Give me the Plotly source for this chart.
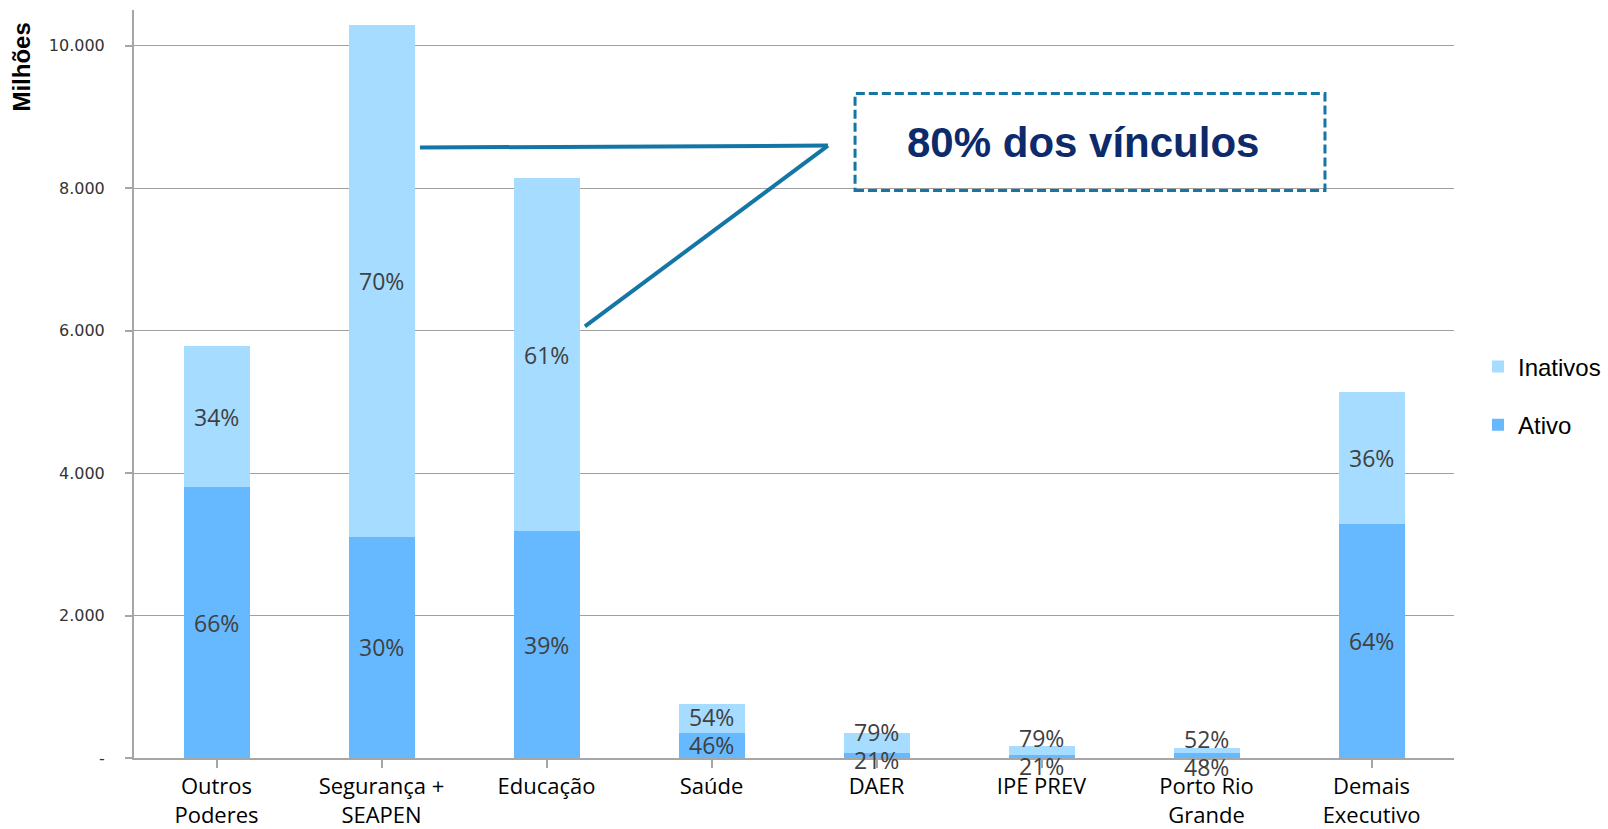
import plotly.graph_objects as go

categories = ["Outros<br>Poderes", "Segurança +<br>SEAPEN", "Educação", "Saúde",
              "DAER", "IPE PREV", "Porto Rio<br>Grande", "Demais<br>Executivo"]
ativo = [3799, 3108, 3180, 351, 72, 36, 69, 3281]
inativos = [1985, 7180, 4964, 412, 273, 137, 75, 1856]
ativo_pct = ["66%", "30%", "39%", "46%", "21%", "21%", "48%", "64%"]
inativos_pct = ["34%", "70%", "61%", "54%", "79%", "79%", "52%", "36%"]
y_ticks = [0, 2000, 4000, 6000, 8000, 10000]
y_ticklabels = ["-", "2.000", "4.000", "6.000", "8.000", "10.000"]

C_ATIVO = "#66B9FF"
C_INAT = "#A6DCFF"
C_LINE = "#1476A6"

W, H = 1608, 829
ML, MR, MT, MB = 134, 154, 10, 71
YMAX = 10500
PLOT_W = W - ML - MR
px_per_unit = (H - MT - MB) / YMAX

fig = go.Figure()
fig.add_trace(go.Bar(x=list(range(len(categories))), y=ativo, name="Ativo",
                     marker=dict(color=C_ATIVO, line=dict(width=0)),
                     legendgroup="a", legendrank=2, hoverinfo="skip"))
fig.add_trace(go.Bar(x=list(range(len(categories))), y=inativos, name="Inativos",
                     marker=dict(color=C_INAT, line=dict(width=0)),
                     legendgroup="i", legendrank=1, hoverinfo="skip"))

# percentage labels, centred on segments; pushed apart when the stack is short
label_font = dict(family="Open Sans", size=23, color="#404040")
MIN_SEP = 28
for i in range(len(categories)):
    a, b = ativo[i], inativos[i]
    ca, cb = a / 2, a + b / 2
    sa, sb = 0, 0
    sep = (cb - ca) * px_per_unit
    if sep < MIN_SEP:
        mid = (a + b) / 2
        sa = (mid - ca) * px_per_unit - MIN_SEP / 2
        sb = (mid - cb) * px_per_unit + MIN_SEP / 2
    fig.add_annotation(x=i, y=ca, text=ativo_pct[i], showarrow=False,
                       yshift=sa, font=label_font)
    fig.add_annotation(x=i, y=cb, text=inativos_pct[i], showarrow=False,
                       yshift=sb, font=label_font)

# callout
fig.add_shape(type="line", xref="x", yref="y", x0=1.233, y0=8569, x1=3.706, y1=8597,
              line=dict(color=C_LINE, width=4))
fig.add_shape(type="line", xref="x", yref="y", x0=3.706, y0=8597, x1=2.233, y1=6059,
              line=dict(color=C_LINE, width=4))
fig.add_shape(type="rect", xref="x", yref="y", x0=3.870, x1=6.718, y0=7966, y1=9327,
              line=dict(color=C_LINE, width=3, dash="9px,4px"), fillcolor="rgba(0,0,0,0)")
fig.add_annotation(x=5.25, y=8640, xref="x", yref="y", text="<b>80% dos vínculos</b>",
                   showarrow=False,
                   font=dict(family="Liberation Sans", size=42, color="#0D2A6B"))

# y axis title at top-left
fig.add_annotation(xref="paper", yref="paper", x=(22 - ML) / PLOT_W, y=0.923,
                   text="<b>Milhões</b>",
                   textangle=-90, showarrow=False, xanchor="center", yanchor="middle",
                   font=dict(family="Liberation Sans", size=24, color="#000000"))

fig.update_layout(
    width=W, height=H,
    margin=dict(l=ML, r=MR, t=MT, b=MB, pad=0, autoexpand=False),
    barmode="stack", bargap=0.6,
    plot_bgcolor="white", paper_bgcolor="white",
    showlegend=True,
    legend=dict(x=(1478 - ML) / PLOT_W, xanchor="left", y=0.553, yanchor="top",
                traceorder="grouped", tracegroupgap=24,
                font=dict(family="Liberation Sans", size=24, color="#000000"),
                bgcolor="rgba(0,0,0,0)"),
    xaxis=dict(tickmode="array", tickvals=list(range(len(categories))), ticktext=categories,
               range=[-0.5, len(categories) - 0.5], automargin=False,
               tickson="boundaries", ticks="outside", ticklen=8, tickcolor="#A6A6A6",
               tickwidth=2, showline=True, linecolor="#A6A6A6", linewidth=2,
               showgrid=False, zeroline=False,
               tickfont=dict(family="Open Sans", size=22, color="#000000")),
    yaxis=dict(range=[0, YMAX], tickmode="array", tickvals=y_ticks, ticktext=y_ticklabels,
               automargin=False,
               ticks="outside", ticklen=7, tickcolor="#A6A6A6", tickwidth=1.5,
               showline=True, linecolor="#A6A6A6", linewidth=2,
               showgrid=True, gridcolor="#A0A0A0", gridwidth=1, zeroline=False,
               ticklabelstandoff=17,
               tickfont=dict(family="DejaVu Sans", size=16, color="#333333")),
)

fig.write_html("out.html", config={"displayModeBar": False},
               post_script="document.body.style.margin='0';document.body.style.padding='0';"
                           "document.body.style.overflow='hidden';")
